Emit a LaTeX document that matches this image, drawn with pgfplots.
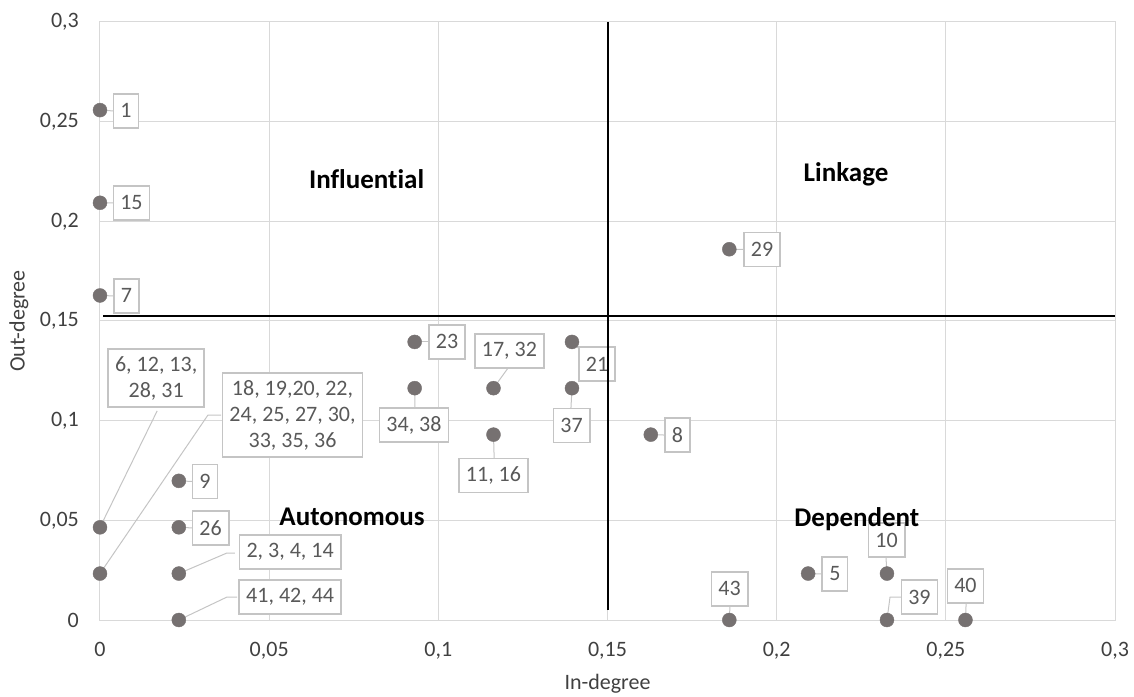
\documentclass[border=0pt]{standalone}
\usepackage{fontspec}
\setmainfont{Carlito}[Ligatures=NoCommon]
\usepackage{pgfplots}
\pgfplotsset{compat=1.18}

\definecolor{gridc}{HTML}{D9D9D9}
\definecolor{ptc}{HTML}{767171}
\definecolor{boxc}{HTML}{C4C4C4}
\definecolor{labc}{HTML}{595959}
\definecolor{tickc}{HTML}{404040}

\begin{document}
\begin{tikzpicture}[
  lab/.style={draw=boxc, line width=1.6pt, fill=white, text=labc,
    font=\fontsize{22}{26}\selectfont, inner xsep=7pt, inner ysep=7pt,
    minimum height=34pt, align=center},
  lead/.style={draw=boxc, line width=1pt},
  quad/.style={font=\fontsize{27}{30}\selectfont\bfseries, anchor=base},
]
\begin{axis}[
  scale only axis, width=1015pt, height=598pt,
  xmin=0, xmax=0.3, ymin=0, ymax=0.3,
  xtick={0,0.05,0.1,0.15,0.2,0.25,0.3},
  ytick={0,0.05,0.1,0.15,0.2,0.25,0.3},
  grid=major, grid style={gridc, line width=1pt},
  axis line style={gridc, line width=1pt},
  major tick length=0pt,
  scaled ticks=false,
  /pgf/number format/fixed,
  /pgf/number format/precision=2,
  /pgf/number format/use comma,
  /pgf/number format/assume math mode=true,
  tick label style={font=\fontsize{22}{26}\selectfont, text=tickc},
  xticklabel style={anchor=north, inner sep=0pt, yshift=-22pt},
  yticklabel style={anchor=east, inner sep=0pt, xshift=-21pt},
  clip=false,
]

% axis titles
\node[font=\fontsize{22}{26}\selectfont, text=tickc] at ([yshift=-64pt]rel axis cs:0.5,0) {In-degree};
\node[font=\fontsize{22}{26}\selectfont, text=tickc, rotate=90] at ([xshift=-81pt]rel axis cs:0,0.5) {Out-degree};

% leader lines
\draw[lead] (axis cs:0,0.2558) -- (axis cs:0.0038,0.2554);
\draw[lead] (axis cs:0,0.2093) -- (axis cs:0.0038,0.2092);
\draw[lead] (axis cs:0,0.1628) -- (axis cs:0.0038,0.1626);
\draw[lead] (axis cs:0,0.0465) -- (axis cs:0.0169,0.1049);
\draw[lead] (axis cs:0,0.0233) -- (axis cs:0.0319,0.1028) -- (axis cs:0.0358,0.1028);
\draw[lead] (axis cs:0.0233,0.0698) -- (axis cs:0.0272,0.0695);
\draw[lead] (axis cs:0.0233,0.0465) -- (axis cs:0.0272,0.0462);
\draw[lead] (axis cs:0.0233,0.0233) -- (axis cs:0.0375,0.0336) -- (axis cs:0.0399,0.0336);
\draw[lead] (axis cs:0.0233,0) -- (axis cs:0.0375,0.0115) -- (axis cs:0.0405,0.0115);
\draw[lead] (axis cs:0.0930,0.1395) -- (axis cs:0.0969,0.1395);
\draw[lead] (axis cs:0.1163,0.1163) -- (axis cs:0.1206,0.1264);
\draw[lead] (axis cs:0.0930,0.1163) -- (axis cs:0.0931,0.1069);
\draw[lead] (axis cs:0.1163,0.0930) -- (axis cs:0.1165,0.0813);
\draw[lead] (axis cs:0.1395,0.1395) -- (axis cs:0.1413,0.1365);
\draw[lead] (axis cs:0.1395,0.1163) -- (axis cs:0.1392,0.1064);
\draw[lead] (axis cs:0.1628,0.0930) -- (axis cs:0.1667,0.0928);
\draw[lead] (axis cs:0.1860,0.1860) -- (axis cs:0.1900,0.1859);
\draw[lead] (axis cs:0.2093,0.0233) -- (axis cs:0.2134,0.0231);
\draw[lead] (axis cs:0.2326,0.0233) -- (axis cs:0.2323,0.0316);
\draw[lead] (axis cs:0.1860,0) -- (axis cs:0.1862,0.0070);
\draw[lead] (axis cs:0.2326,0) -- (axis cs:0.2335,0.0115) -- (axis cs:0.2368,0.0115);
\draw[lead] (axis cs:0.2558,0) -- (axis cs:0.2560,0.0085);

% data points
\addplot[only marks, mark=*, mark size=7pt, mark options={fill=ptc, draw=ptc}]
  coordinates {
  (0,0.2558) (0,0.2093) (0,0.1628) (0,0.0465) (0,0.0233)
  (0.0233,0.0698) (0.0233,0.0465) (0.0233,0.0233) (0.0233,0)
  (0.0930,0.1395) (0.0930,0.1163) (0.1163,0.1163) (0.1163,0.0930)
  (0.1395,0.1395) (0.1395,0.1163) (0.1628,0.0930)
  (0.1860,0.1860) (0.1860,0) (0.2093,0.0233)
  (0.2326,0.0233) (0.2326,0) (0.2558,0)
  };

% point labels
\node[lab] at (axis cs:0.0077,0.2554) {1};
\node[lab] at (axis cs:0.0093,0.2092) {15};
\node[lab] at (axis cs:0.0078,0.1626) {7};
\node[lab] at (axis cs:0.0166,0.1214) {6, 12, 13,\\28, 31};
\node[lab] at (axis cs:0.0569,0.1028) {18, 19,20, 22,\\24, 25, 27, 30,\\33, 35, 36};
\node[lab] at (axis cs:0.0310,0.0695) {9};
\node[lab] at (axis cs:0.0327,0.0462) {26};
\node[lab] at (axis cs:0.0562,0.0341) {2, 3, 4, 14};
\node[lab] at (axis cs:0.0562,0.0115) {41, 42, 44};
\node[lab] at (axis cs:0.1026,0.1395) {23};
\node[lab] at (axis cs:0.1210,0.1350) {17, 32};
\node[lab] at (axis cs:0.0928,0.0978) {34, 38};
\node[lab] at (axis cs:0.1163,0.0725) {11, 16};
\node[lab] at (axis cs:0.1469,0.1284) {21};
\node[lab] at (axis cs:0.1394,0.0976) {37};
\node[lab] at (axis cs:0.1707,0.0928) {8};
\node[lab] at (axis cs:0.1957,0.1859) {29};
\node[lab] at (axis cs:0.2172,0.0231) {5};
\node[lab] at (axis cs:0.2325,0.0401) {10};
\node[lab] at (axis cs:0.1861,0.0156) {43};
\node[lab] at (axis cs:0.2422,0.0115) {39};
\node[lab] at (axis cs:0.2558,0.0171) {40};

% quadrant dividers
\addplot[black, line width=2pt] coordinates {(0.001,0.1525) (0.3,0.1525)};
\addplot[black, line width=2pt] coordinates {(0.15,0.005) (0.15,0.3)};

% quadrant names
\node[quad] at (axis cs:0.0788,0.2167) {Influential};
\node[quad] at (axis cs:0.2205,0.2202) {Linkage};
\node[quad] at (axis cs:0.0745,0.0472) {Autonomous};
\node[quad] at (axis cs:0.2237,0.0467) {Dependent};
\end{axis}
\pgfresetboundingbox
\path (-100pt,-76pt) rectangle (1034pt,620pt);
\end{tikzpicture}
\end{document}
